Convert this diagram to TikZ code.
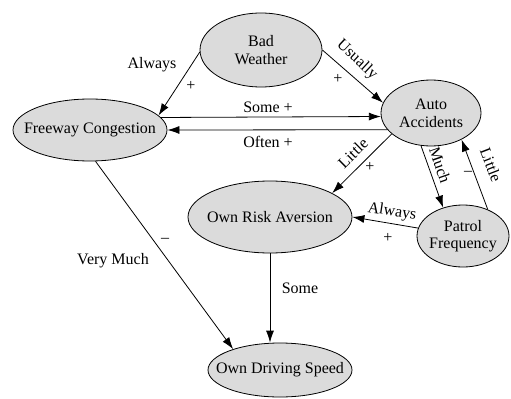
\documentclass[tikz,border=0pt]{standalone}
\usepackage{fontspec}
\setmainfont{LiberationSerif}[Extension=.ttf, UprightFont=*-Regular, BoldFont=*-Bold, ItalicFont=*-Italic]
\usetikzlibrary{shapes.geometric, arrows.meta}

\tikzset{
	factor/.style={ellipse, draw, fill=black!14, line width=0.5pt,
		inner xsep=-30pt, inner ysep=-12pt, align=center},
	link/.style={-{Latex[length=7.5pt,width=5pt]}, line width=0.5pt}
}

\begin{document}
\begin{tikzpicture}[x=0.625pt, y=-0.625pt, font=\rmfamily\fontsize{10}{11}\selectfont]
					\useasboundingbox (0,0) rectangle (511,398);

					\draw
						(261,50) node[factor, minimum width=76.25pt, minimum height=46.25pt] (weather) {Bad\\Weather}
						(90,130) node[factor, minimum width=96.25pt, minimum height=38.75pt] (freeway) {Freeway Congestion}
						(431,113) node[factor, minimum width=62.5pt, minimum height=41.25pt] (auto) {Auto\\Accidents}
						(270,217) node[factor, minimum width=102.5pt, minimum height=45pt] (risk) {Own Risk Aversion}
						(463,236) node[factor, minimum width=57.5pt, minimum height=38.75pt] (patrol) {Patrol\\Frequency}
						(280,370) node[factor, minimum width=90pt, minimum height=33.75pt] (speed) {Own Driving Speed};

					\draw[link] (weather.182) -- (freeway.12);
					\draw[link] (weather.east) -- (auto.168);
					\draw[link] (freeway.10.5) -- (auto.184.6);
					\draw[link] (auto.201.6) -- (freeway.east);
					\draw[link] (auto.208) -- (risk.21);
					\draw[link] (auto.253.6) -- (patrol.125);
					\draw[link] (patrol.47) -- (auto.319);
					\draw[link] (patrol.170) -- (risk.east);
					\draw[link] (risk.south) -- (risk.south |- speed.north);
					\draw[link] (freeway.280) -- (speed.156);

					\draw
						(152,65) node (always1) {Always}
						(191,86) node (plus1) {+}
						(357,60) node[rotate=-43] (usually) {Usually}
						(338,79) node (plus2) {+}
						(268,107) node (some1) {Some +}
						(268,142) node (often) {Often +}
						(353,153) node[rotate=44.5] (little1) {Little}
						(370,167) node (plus3) {+}
						(440,165) node[rotate=-71] (much) {Much}
						(491,165) node[rotate=-69, inner sep=1pt] (little2) {Little}
						(468,173) node[inner sep=1pt] (minus1) {--}
						(392,212) node[rotate=-8.6] (always2) {Always}
						(388,238) node (plus4) {+}
						(300,288) node (some2) {Some}
						(113,261) node (verymuch) {Very Much}
						(165,240) node (minus2) {--};
				\end{tikzpicture}
\end{document}
